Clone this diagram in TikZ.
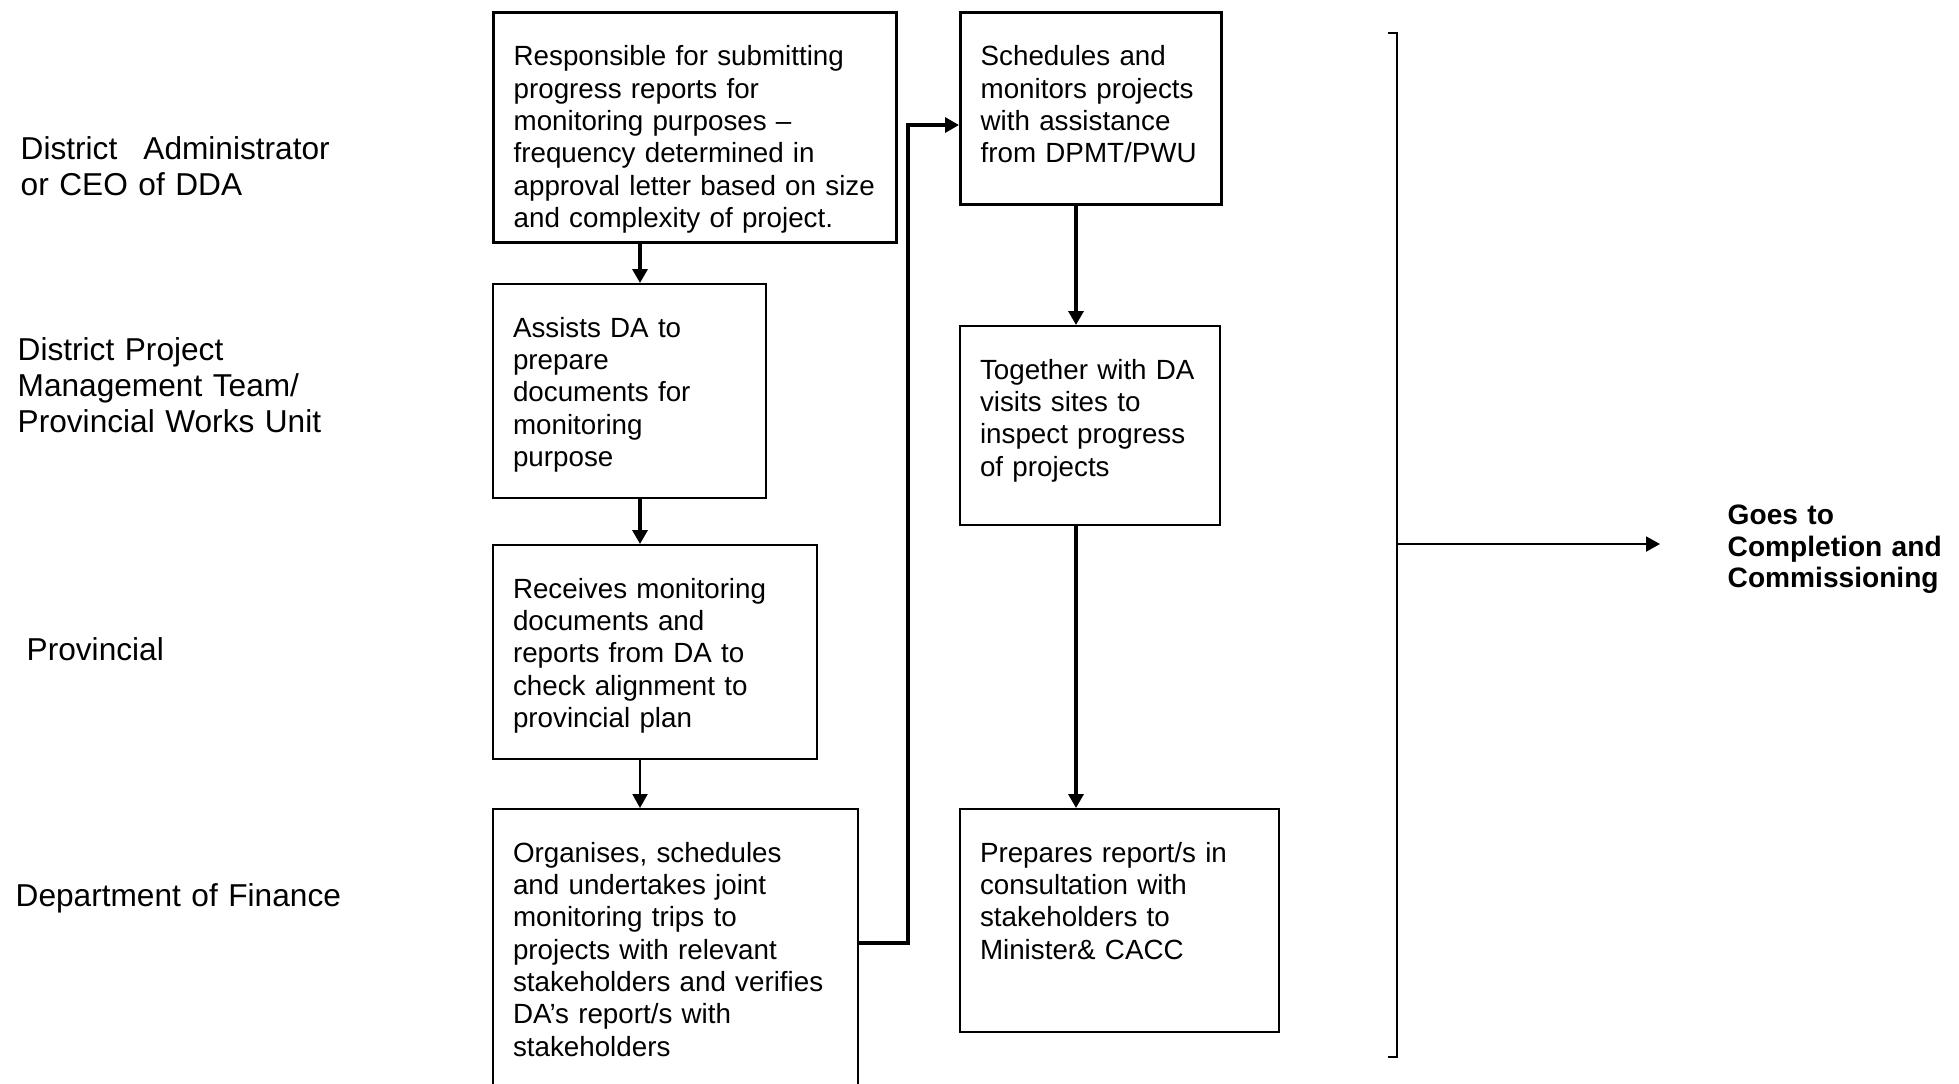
\documentclass[tikz,border=0pt]{standalone}
\usepackage{fontspec}
\setmainfont{Liberation Sans}
\usetikzlibrary{arrows.meta,positioning}

\begin{document}
\begin{tikzpicture}[x=0.1mm, y=-0.1mm,
        stagebox/.style={draw, line width=0.57pt, anchor=north west,
                         inner xsep=2.0mm, inner ysep=0pt, text height=5.3mm,
                         align=left, font=\fontsize{7.9}{9.2}\selectfont},
        keybox/.style={stagebox, line width=0.94pt},
        tier/.style={anchor=base west, inner sep=0pt, text width=34mm,
                     align=left, font=\fontsize{9}{10.25}\selectfont},
        arr/.style={-{Triangle[length=1.4mm, width=1.5mm]}, line width=0.94pt},
        thinarr/.style={arr, line width=0.57pt}
      ]
        \useasboundingbox[fill=white] (0,0) rectangle (1959,1083);
        % Tiers on the left
        \node[tier] (tierda)   at (20,159)  {District\ \ \hspace{0.5mm}Administrator\\or CEO of DDA};
        \node[tier] (tierdpmt) at (17,360)  {District Project\\Management Team/\\Provincial Works Unit};
        \node[tier] (tierprov) at (26,660)  {Provincial};
        \node[tier] (tierdof)  at (15,906)  {Department of Finance};
        % First column
        \node[keybox, text width=36.3mm, text depth=17.7mm] (resp) at (492,11)
          {Responsible for submitting\\progress reports for\\monitoring purposes –\\frequency determined in\\approval letter based on size\\and complexity of project.};
        \node[stagebox, text width=23.3mm, text depth=16.1mm] (assist) at (492,283)
          {Assists DA to\\prepare\\documents for\\monitoring\\purpose};
        \node[stagebox, text width=28.4mm, text depth=16.1mm] (receive) at (492,544)
          {Receives monitoring\\documents and\\reports from DA to\\check alignment to\\provincial plan};
        \node[stagebox, text width=32.5mm, text depth=22.9mm] (organise) at (492,808)
          {Organises, schedules\\and undertakes joint\\monitoring trips to\\projects with relevant\\stakeholders and verifies\\DA’s report/s with\\stakeholders};
        % Second column
        \node[keybox, text width=22.1mm, text depth=13.9mm] (sched) at (959,11)
          {Schedules and\\monitors projects\\with assistance\\from DPMT/PWU};
        \node[stagebox, text width=22.0mm, text depth=14.6mm] (visit) at (959,325)
          {Together with DA\\visits sites to\\inspect progress\\of projects};
        \node[stagebox, text width=27.9mm, text depth=17.0mm] (report) at (959,808)
          {Prepares report/s in\\consultation with\\stakeholders to\\Minister\& CACC};
        % Outcome
        \node[anchor=base west, inner sep=0pt, text width=25mm, align=left,
              font=\bfseries\fontsize{8}{9.1}\selectfont] (goes) at (1727,524)
          {Goes to\\Completion and\\Commissioning};
        % Connectors
        \coordinate (colA) at (640,0);
        \coordinate (colB) at (1076,0);
        \coordinate (jogbot) at (908,943);
        \coordinate (jogtop) at (908,125);
        \draw[arr] (resp.south -| colA) -- (assist.north -| colA);
        \draw[arr] (assist.south -| colA) -- (receive.north -| colA);
        \draw[thinarr] (receive.south -| colA) -- (organise.north -| colA);
        \draw[arr] (organise.east |- jogbot) -- (jogbot) -- (jogtop) -- (sched.west |- jogtop);
        \draw[arr] (sched.south -| colB) -- (visit.north -| colB);
        \draw[arr] (visit.south -| colB) -- (report.north -| colB);
        % Bracket
        \coordinate (brtop) at (1397,33);
        \coordinate (brbot) at (1397,1057);
        \coordinate (brmid) at (1397,544);
        \draw[line width=0.57pt] ([xshift=-0.9mm]brtop) -- (brtop) -- (brbot) -- ([xshift=-0.9mm]brbot);
        \draw[thinarr, shorten >=6.7mm] (brmid) -- (goes.west |- brmid);
      \end{tikzpicture}
\end{document}
